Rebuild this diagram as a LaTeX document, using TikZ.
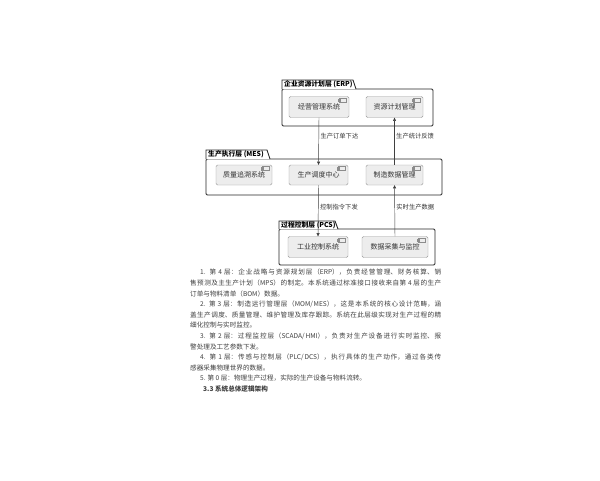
\documentclass[tikz,border=0pt]{standalone}
\usepackage{fontspec}
\setmainfont{Noto Sans CJK SC}
\usetikzlibrary{arrows.meta,calc}
\XeTeXlinebreaklocale "zh"
\XeTeXlinebreakskip=0pt plus 1pt minus 0.2pt
\tolerance=9999
\emergencystretch=6pt

\tikzset{
	comp/.style={draw=black!40, fill=black!7, rounded corners=1.5pt, minimum height=21pt, inner sep=0pt, font=\fontsize{7}{8}\selectfont, text=black!80},
	pkgbody/.style={draw=black!85, line width=0.9pt, fill=white, rounded corners=1.2pt},
	pkgtitle/.style={anchor=west, inner sep=0pt, font=\bfseries\fontsize{6.8}{7}\selectfont},
	flow/.style={draw=black!75, line width=0.45pt, -{Triangle[length=3.2pt,width=3pt]}},
	flowlbl/.style={right, inner sep=1.5pt, font=\fontsize{6.3}{7}\selectfont, text=black!80},
	para/.style={anchor=north west, inner sep=0pt, text width=251pt, align=justify, font=\fontsize{6.6}{10.6}\selectfont, text=black!75},
}

\newcommand\compicon[1]{%
	\draw[black!45, fill=black!7, line width=0.3pt] ($(#1.north east)+(-10,1.8)$) rectangle ++(6.5,4);
	\draw[black!45, fill=black!7, line width=0.3pt] ($(#1.north east)+(-11.1,2.5)$) rectangle ++(2.2,0.9);
	\draw[black!45, fill=black!7, line width=0.3pt] ($(#1.north east)+(-11.1,4.1)$) rectangle ++(2.2,0.9);
}

\begin{document}
\begin{tikzpicture}[x=1pt, y=-1pt]
	\useasboundingbox[fill=white] (0,0) rectangle (600,480);

	\draw[pkgbody] (282,89) rectangle (433,126);
	\draw[pkgbody, rounded corners=0pt] (282,89) -- (282,80) -- (353,80) -- (356,89);
	\draw (284,84.7) node[pkgtitle] (erptitle) {企业资源计划层 (ERP)};

	\draw[pkgbody] (206,159) rectangle (442,195);
	\draw[pkgbody, rounded corners=0pt] (206,159) -- (206,150) -- (267,150) -- (270,159);
	\draw (208,154.7) node[pkgtitle] (mestitle) {生产执行层 (MES)};

	\draw[pkgbody] (279,229) rectangle (435,265);
	\draw[pkgbody, rounded corners=0pt] (279,229) -- (279,221) -- (335,221) -- (338,229);
	\draw (281,225.2) node[pkgtitle] (pcstitle) {过程控制层 (PCS)};

	\draw (319,107) node[comp, minimum width=60pt] (mgmt) {经营管理系统};
	\draw (394.5,107) node[comp, minimum width=57pt] (plan) {资源计划管理};
	\draw (244,175) node[comp, minimum width=56pt, minimum height=20pt] (trace) {质量追溯系统};
	\draw (318.5,175) node[comp, minimum width=59pt, minimum height=20pt] (sched) {生产调度中心};
	\draw (394.5,175) node[comp, minimum width=57pt, minimum height=20pt] (mdata) {制造数据管理};
	\draw (318,247) node[comp, minimum width=60pt] (ics) {工业控制系统};
	\draw (395,247) node[comp, minimum width=66pt] (daq) {数据采集与监控};

	\compicon{mgmt}
	\compicon{plan}
	\compicon{trace}
	\compicon{sched}
	\compicon{mdata}
	\compicon{ics}
	\compicon{daq}

	\draw[flow] (mgmt.south) -- node[flowlbl, pos=0.39] (orderlbl) {生产订单下达} (sched.north);
	\draw[flow] (mdata.north) -- node[flowlbl, pos=0.61] (feedlbl) {生产统计反馈} (plan.south);
	\draw[flow] (sched.south) -- node[flowlbl, pos=0.43] (cmdlbl) {控制指令下发} (ics.north);
	\draw[flow] (daq.north) -- node[flowlbl, pos=0.57] (rtlbl) {实时生产数据} (mdata.south);

	\draw (190,269) node[para] (layers) {%
		\hspace*{10pt}1. 第 4 层：企业战略与资源规划层（ERP），负责经营管理、财务核算、销\linebreak
		售预测及主生产计划（MPS）的制定。本系统通过标准接口接收来自第 4 层的生产\linebreak
		订单与物料清单（BOM）数据。\par
		\hspace*{10pt}2. 第 3 层：制造运行管理层（MOM/MES），这是本系统的核心设计范畴，涵\linebreak
		盖生产调度、质量管理、维护管理及库存跟踪。系统在此层级实现对生产过程的精\linebreak
		细化控制与实时监控。\par
		\hspace*{10pt}3. 第 2 层：过程监控层（SCADA/HMI），负责对生产设备进行实时监控、报\linebreak
		警处理及工艺参数下发。\par
		\hspace*{10pt}4. 第 1 层：传感与控制层（PLC/DCS），执行具体的生产动作，通过各类传\linebreak
		感器采集物理世界的数据。\par
		\hspace*{10pt}5. 第 0 层：物理生产过程，实际的生产设备与物料流转。\par
		\hspace*{13pt}\textbf{3.3 系统总体逻辑架构}};
\end{tikzpicture}
\end{document}
